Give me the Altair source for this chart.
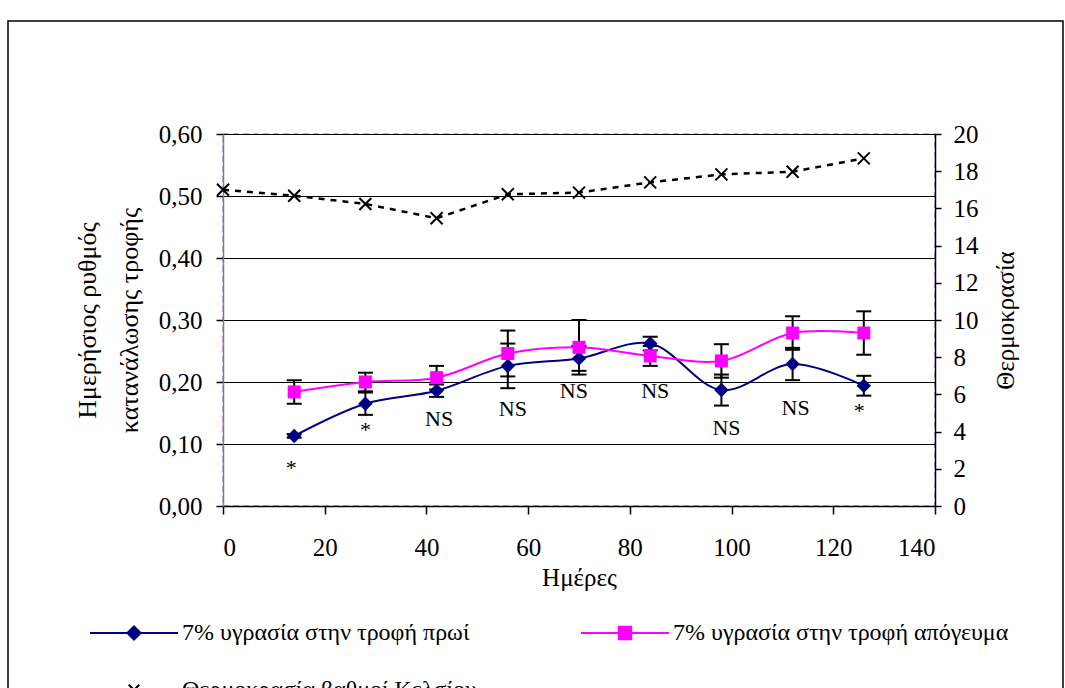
import altair as alt
import pandas as pd

# ---- data ----
days = [14, 28, 42, 56, 70, 84, 98, 112, 126]
morning = [0.113, 0.165, 0.186, 0.226, 0.238, 0.262, 0.187, 0.229, 0.194]
morning_err = [0.003, 0.018, 0.010, 0.036, 0.020, 0.011, 0.025, 0.026, 0.016]
afternoon = [0.184, 0.200, 0.207, 0.246, 0.256, 0.242, 0.234, 0.279, 0.279]
afternoon_err = [0.019, 0.015, 0.019, 0.037, 0.044, 0.016, 0.027, 0.027, 0.035]

temp_days = [0, 14, 28, 42, 56, 70, 84, 98, 112, 126]
temps = [17.0, 16.68, 16.24, 15.47, 16.76, 16.85, 17.40, 17.83, 17.97, 18.69]

series_names = [
    "7% υγρασία στην τροφή πρωί",
    "7% υγρασία στην τροφή απόγευμα",
    "Θερμοκρασία βαθμοί Κελσίου",
]
series_colors = ["#000080", "#FF00FF", "#000000"]

note_x = [13.4, 28, 42.5, 57, 69, 85, 99, 112.6, 125.1]
note_y = [0.050, 0.111, 0.129, 0.145, 0.175, 0.175, 0.115, 0.146, 0.142]
note_text = ["*", "*", "NS", "NS", "NS", "NS", "NS", "NS", "*"]

x_ticks = [0, 20, 40, 60, 80, 100, 120, 140]
y_ticks = [0.0, 0.1, 0.2, 0.3, 0.4, 0.5, 0.6]
t_ticks = [0, 2, 4, 6, 8, 10, 12, 14, 16, 18, 20]

y_title = ["Ημερήσιος ρυθμός", "κατανάλωσης τροφής"]
x_title = "Ημέρες"
t_title = "Θερμοκρασία"

FONT = "Liberation Serif"

# ---- tables ----
rows = []
for d, v, e in zip(days, morning, morning_err):
    rows.append({"series": series_names[0], "day": d, "value": v, "lo": v - e, "hi": v + e})
for d, v, e in zip(days, afternoon, afternoon_err):
    rows.append({"series": series_names[1], "day": d, "value": v, "lo": v - e, "hi": v + e})
df = pd.DataFrame(rows)
df_t = pd.DataFrame({"day": temp_days, "temp": temps})
df_n = pd.DataFrame({"day": note_x, "value": note_y, "txt": note_text})
df_s = pd.DataFrame({"series": series_names})

# ---- scales / axes ----
x_scale = alt.Scale(domain=[0, 140], nice=False)
y_scale = alt.Scale(domain=[0, 0.6], nice=False)
t_scale = alt.Scale(domain=[0, 20], nice=False)

x_axis = alt.Axis(values=x_ticks, grid=False, tickSize=8, tickWidth=1.5, tickColor="black",
                  domainColor="black", domainWidth=1.5, labelPadding=21, labelFontSize=25,
                  titleFontSize=25, titleBaseline="alphabetic", titleY=79)
y_axis = alt.Axis(values=y_ticks, labelExpr="replace(format(datum.value, '.2f'), '.', ',')",
                  grid=True, gridColor="black", gridWidth=1.2, tickSize=7, tickWidth=1.5,
                  tickColor="black", domainColor="#808080", domainWidth=1.5, labelPadding=14,
                  labelFontSize=25, titleFontSize=26, titleAngle=270, titleAlign="center",
                  titleBaseline="middle", titleX=-136, titleY=186, titleLineHeight=42)
t_axis = alt.Axis(orient="right", values=t_ticks, grid=False, tickSize=6, tickWidth=1.5,
                  tickColor="black", domainColor="black", domainWidth=1.5, labelPadding=12,
                  labelFontSize=25, titleFontSize=25, titleAngle=270, titleAlign="center",
                  titleBaseline="alphabetic", titleX=78, titleY=186)

X = alt.X("day:Q", scale=x_scale, axis=x_axis, title=x_title)


def Yl(field):
    return alt.Y(f"{field}:Q", scale=y_scale, axis=y_axis, title=y_title)


Yt = alt.Y("temp:Q", scale=t_scale, axis=t_axis, title=t_title)

# ---- legend symbols: line + marker drawn as one SVG path ----
p_diamond = "M-1,0L1,0M-0.15,0L0,-0.15L0.15,0L0,0.15Z"
p_square = "M-1,0L1,0M-0.14,-0.14L0.14,-0.14L0.14,0.14L-0.14,0.14Z"
p_cross = ("M-1,0L-0.82,0M-0.68,0L-0.5,0M-0.36,0L-0.2,0"
           "M-0.12,-0.12L0.12,0.12M-0.12,0.12L0.12,-0.12"
           "M0.2,0L0.36,0M0.5,0L0.68,0M0.82,0L1,0")

legend = alt.Legend(
    title=None, orient="none", legendX=-134, legendY=454, direction="horizontal", columns=2,
    columnPadding=100, rowPadding=-60, padding=0, symbolSize=7744, symbolStrokeWidth=2,
    labelFont=FONT, labelFontSize=24, labelColor="black", labelLimit=600, labelOffset=3,
    symbolOpacity=1,
)
leg_fill = alt.Fill("series:N", scale=alt.Scale(domain=series_names, range=series_colors), legend=legend)
leg_stroke = alt.Stroke("series:N", scale=alt.Scale(domain=series_names, range=series_colors), legend=legend)
leg_shape = alt.Shape("series:N", scale=alt.Scale(domain=series_names, range=[p_diamond, p_square, p_cross]),
                      legend=legend)

# ---- left layer ----
base = alt.Chart(df)
frame = alt.Chart(pd.DataFrame({"k": [0]})).mark_rect(fillOpacity=0, stroke="black", strokeWidth=1.5).encode(
    x=alt.value(-215), x2=alt.value(840), y=alt.value(-113), y2=alt.value(600))
line_m = base.transform_filter(alt.datum.series == series_names[0]).mark_line(
    interpolate="catmull-rom", strokeWidth=2, color=series_colors[0]).encode(x=X, y=Yl("value"))
line_a = base.transform_filter(alt.datum.series == series_names[1]).mark_line(
    interpolate="catmull-rom", strokeWidth=2, color=series_colors[1]).encode(x=X, y=Yl("value"))
rule = base.mark_rule(color="black", strokeWidth=2).encode(x=X, y=Yl("lo"), y2="hi:Q")
cap_lo = base.mark_tick(color="black", orient="horizontal", size=15, thickness=2, opacity=1).encode(
    x=X, y=Yl("lo"))
cap_hi = base.mark_tick(color="black", orient="horizontal", size=15, thickness=2, opacity=1).encode(
    x=X, y=Yl("hi"))
pts_m = base.transform_filter(alt.datum.series == series_names[0]).mark_point(
    shape="diamond", size=210, filled=True, color=series_colors[0], opacity=1).encode(
    x=X, y=Yl("value"))
pts_a = base.transform_filter(alt.datum.series == series_names[1]).mark_point(
    shape="square", size=169, filled=True, color=series_colors[1], opacity=1).encode(
    x=X, y=Yl("value"))
notes = alt.Chart(df_n).mark_text(font=FONT, fontSize=22, color="black", align="center",
                                  baseline="alphabetic").encode(
    x=X, y=Yl("value"), text="txt:N")
# legend-only layer (no rows drawn; the legend comes from its scales)
leg_layer = alt.Chart(df_s).transform_filter("false").mark_point(
    size=7744, opacity=1, strokeWidth=2).encode(
    x=alt.value(0), y=alt.value(0), fill=leg_fill, stroke=leg_stroke, shape=leg_shape)

left = alt.layer(frame, line_m, line_a, rule, cap_lo, cap_hi, pts_m, pts_a, notes, leg_layer)

# ---- right layer (temperature) ----
tbase = alt.Chart(df_t)
t_line = tbase.mark_line(color="black", strokeDash=[6, 6], strokeWidth=2.5).encode(x=X, y=Yt)
t_pts = tbase.mark_point(shape="M-1,-1L1,1M-1,1L1,-1", size=144, color="black", strokeWidth=2,
                         filled=False, opacity=1).encode(x=X, y=Yt)
right = alt.layer(t_line, t_pts)

chart = alt.layer(left, right).resolve_scale(y="independent").properties(
    width=712, height=372,
    autosize=alt.AutoSizeParams(type="none"),
    padding={"left": 223, "top": 134, "right": 130, "bottom": 182},
    background="white",
).configure(
    font=FONT
).configure_view(
    stroke="#c8a0ff", strokeDash=[6, 4], strokeWidth=2
).configure_axis(
    labelFont=FONT, titleFont=FONT, labelColor="black", titleColor="black", titleFontWeight="normal"
).configure_legend(
    labelFont=FONT, labelFontSize=24, labelColor="black", labelLimit=600
)

chart.save("out.html", embed_options={"renderer": "svg", "actions": False})
